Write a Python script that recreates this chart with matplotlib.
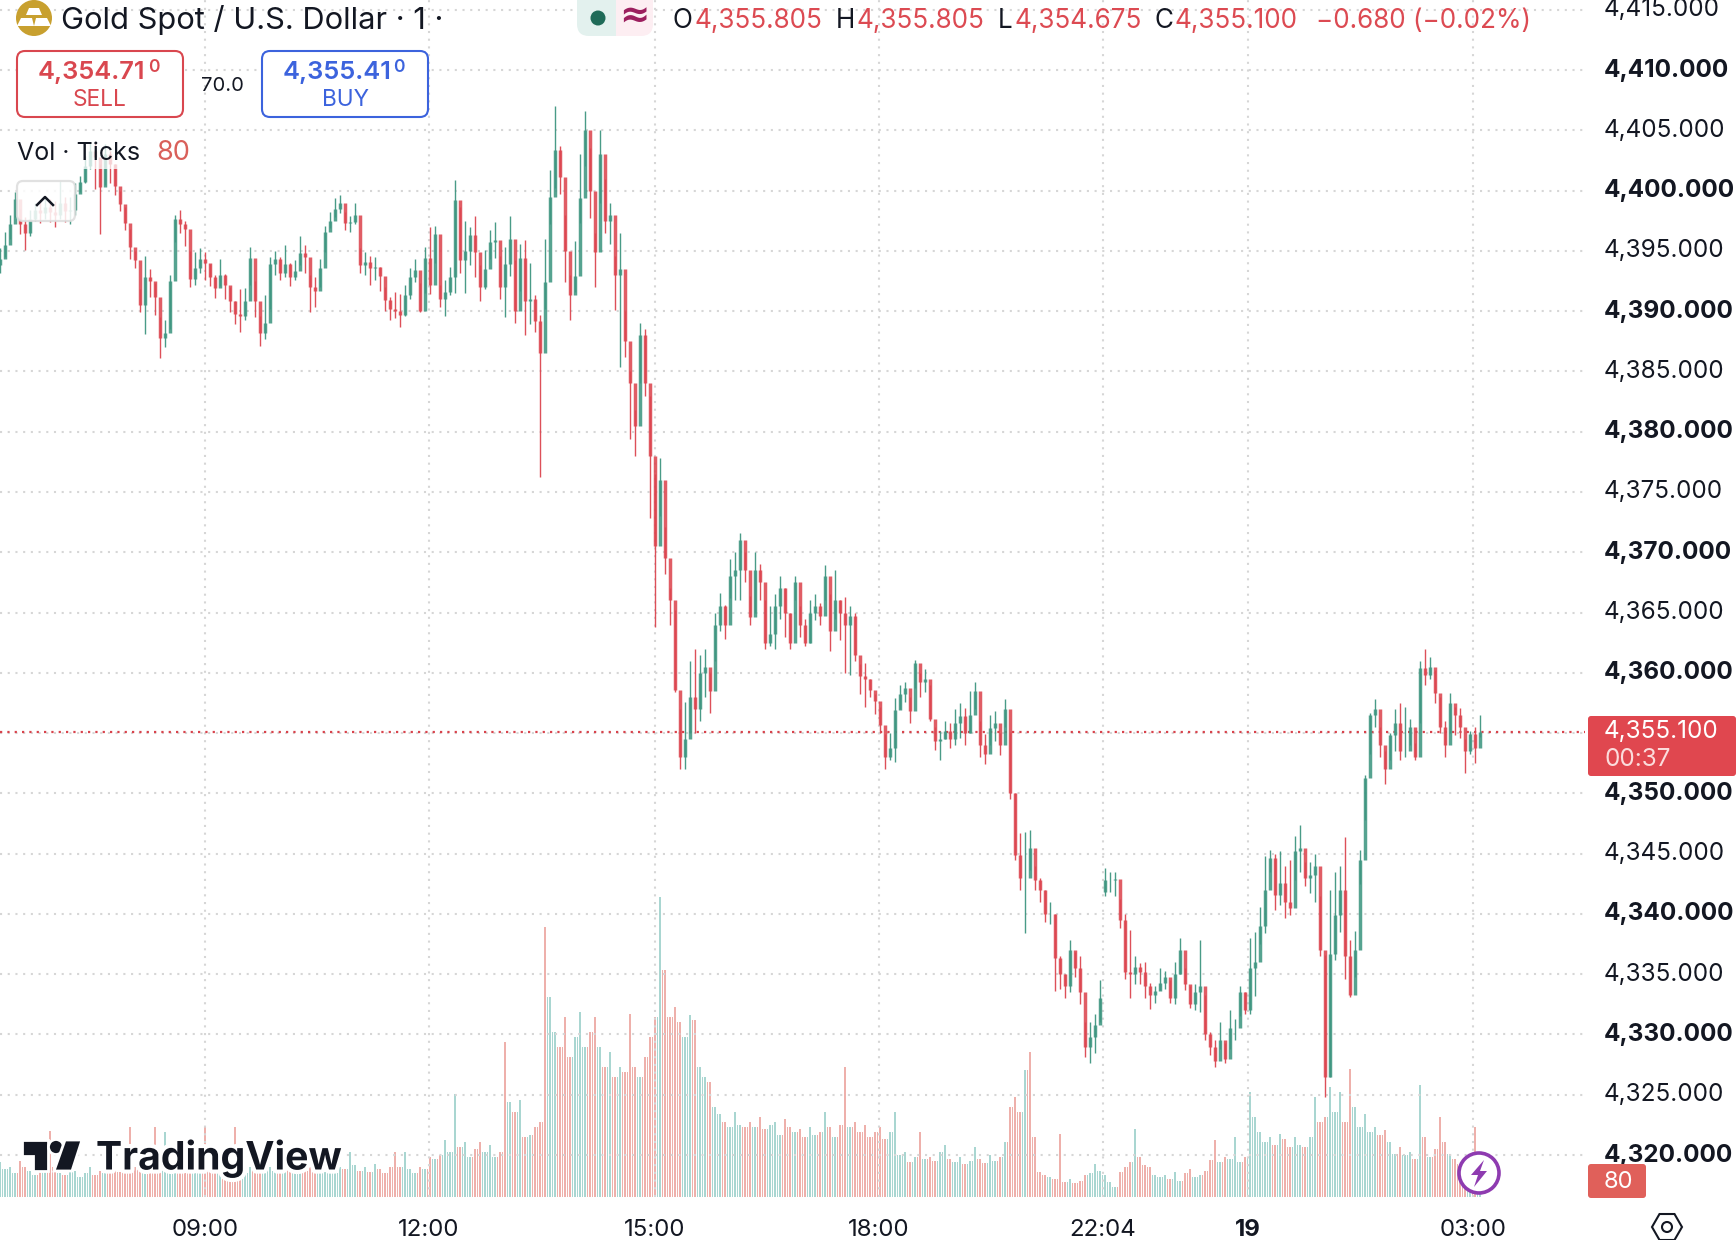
import numpy as np
import matplotlib
matplotlib.use("Agg")
import matplotlib.pyplot as plt
from matplotlib.patches import FancyBboxPatch, Circle, Rectangle, Polygon
import matplotlib.patheffects as pe

plt.rcParams['font.family'] = ['Inter', 'DejaVu Sans']

BASE = 4300.0
CANDLE_STEP = 5          # chart units between drawn candles
closes = [
 94.3,95.5,97.2,99.3,97.2,96.5,97.6,98.4,98.1,98.6,98.2,98.0,99.0,98.3,98.4,99.7,100.7,102.0,103.3,102.8,
 100.3,103.0,102.2,100.4,98.9,97.3,95.3,94.2,90.5,92.8,92.5,91.2,87.8,88.2,92.5,97.6,97.2,96.8,92.7,93.6,
 94.3,94.0,92.8,91.9,93.0,92.2,90.8,89.8,89.6,90.8,94.4,90.8,88.2,89.0,93.9,94.3,93.2,93.9,92.8,93.3,
 94.8,94.5,92.0,91.7,93.6,96.6,97.5,98.5,99.0,97.3,97.4,98.0,93.8,94.1,93.6,93.7,92.9,90.9,90.2,90.0,
 89.7,91.3,92.8,93.4,90.0,94.4,92.2,96.4,91.0,91.6,92.8,99.2,94.2,95.0,96.3,94.9,92.0,93.5,95.7,95.9,
 92.0,93.9,96.0,90.0,94.4,90.8,91.0,89.2,86.5,92.4,99.5,103.4,101.1,95.0,91.3,92.9,99.4,105.0,100.0,94.9,
 103.0,97.5,98.0,93.0,93.5,87.5,84.0,80.5,88.0,84.0,78.0,70.5,76.0,69.5,66.0,58.6,53.0,54.5,58.0,57.0,
 60.0,60.5,58.5,64.0,65.5,64.0,68.0,68.5,71.0,68.5,64.6,68.5,67.5,62.5,63.2,65.5,67.0,65.0,62.5,67.5,
 64.0,62.5,65.0,65.5,64.7,68.0,63.5,66.0,65.0,64.0,64.7,61.5,59.7,59.5,58.6,57.7,55.7,53.0,53.8,56.9,
 58.2,58.7,56.8,60.8,59.2,59.5,56.2,54.3,54.5,55.2,54.5,55.8,56.4,55.0,56.5,58.5,54.0,53.3,55.4,55.8,
 54.0,57.0,50.0,44.9,43.0,43.0,45.5,42.8,42.0,40.0,40.0,36.3,35.0,34.0,37.0,35.5,33.5,29.0,29.8,30.8,
 33.0,42.8,42.8,42.9,39.5,35.2,35.0,35.6,35.2,34.0,33.3,33.6,
 34.3,34.8,33.0,35.0,37.0,34.2,32.5,33.5,34.0,30.0,29.0,27.8,29.5,28.0,30.5,30.5,33.5,32.0,35.5,36.0,
 39.0,42.0,44.6,41.6,42.6,41.0,40.5,45.2,45.5,43.0,43.2,44.0,37.0,26.5,36.7,39.9,42.0,36.5,33.3,37.0,
 44.5,51.3,56.5,57.0,54.0,52.0,54.8,55.8,53.5,53.5,55.5,53.0,60.4,59.8,60.5,58.3,55.5,54.0,57.5,56.5,
 55.5,53.5,54.9,53.8,55.1]
highs = [
 95.2,96.6,98.0,99.9,98.5,97.8,98.4,99.0,99.2,99.5,99.3,99.1,100.8,99.5,99.5,100.6,101.2,102.9,104.0,104.0,
 102.2,103.9,103.3,102.2,100.0,98.6,96.8,95.0,91.8,94.6,93.5,92.3,89.5,89.3,93.0,98.0,98.4,97.5,95.0,94.9,
 95.2,94.9,93.9,93.0,94.3,93.1,92.0,90.8,91.8,91.9,95.3,92.5,89.6,91.3,94.5,95.0,94.5,95.5,94.0,94.2,
 96.2,95.5,93.0,92.8,94.3,97.1,98.2,99.4,99.6,98.2,97.9,99.0,95.2,94.9,94.6,94.5,93.7,92.0,91.2,91.6,
 91.4,92.2,93.6,94.3,92.3,95.3,97.0,97.1,92.2,92.6,93.7,100.9,98.6,97.5,97.0,97.9,93.8,95.1,96.7,97.4,
 94.6,95.3,97.9,94.2,95.6,95.9,94.0,91.3,89.7,96.0,101.7,107.0,103.7,98.0,93.0,95.8,103.0,106.6,103.5,96.5,
 105.0,101.0,99.0,94.6,96.5,90.0,85.0,81.8,89.0,88.5,83.0,76.5,77.8,72.1,67.0,65.2,57.0,57.6,61.0,62.0,
 61.5,62.0,60.0,65.0,66.6,65.6,69.4,70.0,71.6,70.0,66.4,70.0,69.0,66.0,65.5,66.5,68.0,67.0,65.0,68.0,
 65.5,64.5,66.0,66.5,65.8,68.9,66.5,68.5,66.0,66.3,65.5,65.0,60.7,60.8,59.5,58.2,57.2,54.9,55.0,57.9,
 59.0,59.2,58.0,61.1,60.0,60.3,59.0,55.5,55.2,56.0,55.8,57.0,57.5,57.1,58.5,59.2,56.0,54.9,56.5,56.8,
 55.0,57.8,55.0,50.0,46.7,46.8,47.0,44.0,43.0,42.0,41.0,40.0,36.5,35.0,37.8,36.8,36.5,31.0,31.0,31.7,
 34.5,43.8,43.5,43.5,41.2,40.0,38.7,36.5,35.9,36.0,34.3,34.0,
 35.5,35.3,34.5,36.0,38.0,35.5,34.0,34.2,37.8,33.3,30.2,29.5,31.0,29.3,32.0,31.3,34.0,33.5,38.0,38.5,
 40.6,44.8,45.3,45.0,45.2,44.0,44.5,46.5,47.4,44.3,44.3,45.0,41.5,36.6,42.0,43.5,44.0,46.4,37.8,38.6,
 45.3,51.5,56.7,57.8,55.5,53.5,55.0,57.0,57.5,57.2,56.2,54.2,61.0,62.0,61.3,60.2,58.0,56.0,58.3,57.2,
 57.1,54.5,55.2,55.5,56.5]
lows = [
 93.2,94.5,96.0,97.8,96.4,95.1,96.2,97.5,97.3,97.6,97.4,97.0,97.6,97.4,97.2,98.0,99.9,100.6,101.8,100.1,
 96.4,100.5,100.6,99.6,98.3,96.7,94.3,93.6,89.9,88.1,91.2,89.7,86.1,87.0,88.5,95.7,96.5,95.4,92.0,92.2,
 93.2,92.6,92.1,91.1,92.1,91.0,89.9,88.9,88.3,89.3,92.2,89.5,87.1,87.7,90.2,93.0,92.6,92.8,92.1,92.6,
 93.8,93.2,89.9,90.3,92.0,94.9,96.9,97.8,98.1,96.7,96.6,97.2,93.2,93.0,92.2,92.6,91.7,90.0,89.3,89.4,
 88.7,89.6,91.0,92.4,89.9,91.5,91.4,94.0,90.3,89.6,91.3,91.5,93.2,91.5,93.8,92.8,90.8,91.8,94.3,94.4,
 91.0,89.5,92.9,89.0,91.7,88.0,88.9,88.3,76.2,90.2,97.2,100.2,99.7,92.4,89.3,91.6,97.3,102.0,97.7,92.0,
 99.0,96.5,95.6,90.1,85.4,86.2,79.4,78.0,84.0,83.0,72.8,63.8,73.0,68.2,64.0,58.4,52.0,52.0,55.0,55.0,
 56.0,58.0,56.7,61.0,63.5,62.8,66.2,66.0,66.0,67.5,64.0,65.0,66.0,62.0,62.2,62.0,64.5,63.0,62.0,66.0,
 63.0,62.2,62.5,64.4,64.0,66.0,61.8,64.5,62.7,60.0,59.8,61.0,58.2,57.2,58.0,56.6,55.0,52.0,52.8,52.6,
 57.0,57.6,55.8,58.7,58.0,58.4,56.0,53.6,52.8,54.5,53.8,54.0,54.6,54.0,55.0,57.0,53.0,52.4,54.0,54.3,
 53.2,55.5,49.5,44.5,42.0,38.4,43.6,42.0,41.0,39.3,39.2,33.6,33.8,33.0,33.5,34.8,32.5,28.1,27.6,28.5,
 31.0,41.5,41.8,41.5,38.8,34.6,33.0,34.2,34.2,33.0,32.1,32.6,
 33.7,33.8,32.6,32.5,35.0,33.7,32.2,32.0,31.9,29.5,28.3,27.3,28.8,27.6,28.8,29.5,31.5,31.7,31.7,33.2,
 37.5,38.4,43.5,40.3,40.7,39.7,39.9,42.8,43.5,42.3,41.7,41.0,36.5,24.8,26.5,36.2,38.5,34.6,33.1,34.8,
 42.5,47.8,53.3,55.5,53.0,50.8,52.8,53.5,52.8,53.0,54.0,52.8,55.8,59.0,59.5,57.5,55.0,53.0,55.0,54.8,
 54.6,51.7,53.3,52.5,54.7]
session_open_index = 221      # first candle after the daily break
session_open_value = 41.8
volume_ticks_per_px = 5
volumes = [
 35,28,30,24,36,30,26,22,28,25, 66,30,24,22,28,26,20,24,30,22, 26,24,30,28,25,35,70,30,45,40,
 38,70,32,65,30,42,35,28,25,30, 28,70,45,30,28,30,26,70,28,24, 30,28,40,32,30,26,24,28,30,26,
 30,26,32,28,30,25,28,24,30,28, 45,32,26,30,25,33,28,24,30,45, 30,45,28,24,30,28,40,38,42,57,
 45,103,50,55,40,48,55,45,52,40, 45,155,95,85,97,60,62,70,75,270, 200,165,150,180,140,160,185,150,165,180,
 150,130,145,120,130,125,183,130,120,140, 160,180,300,227,180,190,175,160,182,177, 130,120,115,90,83,75,70,85,72,70,
 75,70,80,68,72,75,62,78,70,65, 68,60,70,62,65,85,70,60,72,130, 70,75,65,72,60,65,70,58,65,85,
 42,45,35,40,65,38,40,36,45,52, 38,35,40,33,36,50,38,34,42,36, 40,55,90,100,85,127,145,60,25,22,
 20,18,63,15,18,14,16,22,24,33, 26,22,15,10,25,30,35,68,40,32, 30,22,
 20,22,18,25,16,24,28,20,22,26, 37,57,35,40,38,60,35,40,105,80, 65,55,60,52,63,58,50,60,52,50,
 60,100,75,80,110,85,105,75,128,90, 70,83,65,70,62,67,55,43,50,42, 45,38,112,60,40,48,80,55,43,38,
 33,36,30,70,16]
red_volume_spikes = [101, 109, 133, 206, 270, 295]
price_ticks = list(range(4320, 4416, 5))
hidden_price_tick = 4355      # covered by the last-price tag
time_ticks = [205, 429, 655, 879, 1103, 1248, 1473]
time_labels = ['09:00', '12:00', '15:00', '18:00', '22:04', '19', '03:00']
last_price = 4355.1

n = min(len(closes), len(highs), len(lows), len(volumes))
xs = np.arange(n) * CANDLE_STEP
c = np.array(closes[:n]) + BASE
h = np.array(highs[:n]) + BASE
l = np.array(lows[:n]) + BASE
o = np.r_[c[0] - 0.5, c[:-1]]
o[session_open_index] = session_open_value + BASE
up = c >= o
GREEN, RED = '#3f9681', '#dc4650'
candle_col = np.where(up, GREEN, RED)
vol_col = np.where(up, '#a9d6d1', '#eeb0ab')
vol_col[red_volume_spikes] = '#eeb0ab'
v = np.array(volumes[:n], float)

W, H = 1736, 1240
R, B = 1585, 1197
px_per_unit = (1155 - 70) / 90.0
fig = plt.figure(figsize=(W / 100, H / 100), dpi=100, facecolor='white')
rect = [0, 1 - B / H, R / W, B / H]

ax = fig.add_axes(rect, zorder=2)
ax.set_facecolor('none')
ax.set_xlim(0, R)
ax.set_ylim(4410 - (B - 70) / px_per_unit, 4410 + 70 / px_per_unit)

axv = fig.add_axes(rect, zorder=1)
axv.set_xlim(0, R)
axv.set_ylim(0, B * volume_ticks_per_px)
axv.axis('off')
# fine stripes: the wide-spaced reading plus an in-between stripe capped by its neighbour
axv.bar(xs, v * volume_ticks_per_px, width=1.5, color=vol_col, linewidth=0)
axv.bar(xs[:-1] + CANDLE_STEP / 2, np.minimum(v[:-1], v[1:]) * volume_ticks_per_px, width=1.5,
        color=vol_col[1:], linewidth=0)

for s in ax.spines.values():
    s.set_visible(False)
ax.grid(True, color='#d6d6d6', linewidth=1.5, linestyle=(0, (1, 2.7)))
ax.set_axisbelow(True)
ax.yaxis.tick_right()
ax.set_yticks(price_ticks)
ax.set_yticklabels(['' if p == hidden_price_tick else f'{p:,.3f}' for p in price_ticks],
                   fontsize=17.5, color='#131722')
for lab, p in zip(ax.get_yticklabels(), price_ticks):
    if p % 10 == 0:
        lab.set_fontweight('bold')
    lab.set_verticalalignment('center')
ax.set_xticks(time_ticks)
ax.set_xticklabels(time_labels, fontsize=17.3, color='#131722')
for lab, t in zip(ax.get_xticklabels(), time_labels):
    if t == '19':
        lab.set_fontweight('bold')
ax.tick_params(axis='both', length=0)
ax.tick_params(axis='y', pad=13.7)
ax.tick_params(axis='x', pad=15.5)

ax.axhline(last_price, xmin=0, xmax=1, color='#d8434c', linewidth=1.6, linestyle=(0, (1, 2.3)), zorder=1.5)
ax.vlines(xs, l, h, colors=candle_col, linewidth=1.0, alpha=0.95, zorder=3)
ax.vlines(xs, np.minimum(o, c), np.maximum(o, c), colors=candle_col, linewidth=2.5, alpha=0.88, zorder=3)

# overlay in pixel coordinates
ov = fig.add_axes([0, 0, 1, 1], zorder=5)
ov.set_xlim(0, W)
ov.set_ylim(H, 0)
ov.axis('off')
ov.patch.set_alpha(0)

INK, RT, BT = '#131722', '#dc4a52', '#3c63dd'
# symbol icon
ov.add_patch(Circle((34, 18), 18, fc='#c8a02f', ec='none'))
ov.add_patch(Polygon([[29, 8], [39, 8], [42, 15], [26, 15]], fc='white', ec='none'))
ov.add_patch(Polygon([[21, 18], [32, 18], [34, 26], [17, 26]], fc='white', ec='none'))
ov.add_patch(Polygon([[36, 18], [47, 18], [51, 26], [34, 26]], fc='white', ec='none'))
ov.text(61, 20, 'Gold Spot / U.S. Dollar · 1 ·', fontsize=22.2, color=INK, va='center', ha='left')
# status pill
ov.add_patch(FancyBboxPatch((577, -12), 60, 48, boxstyle='round,pad=0,rounding_size=12', fc='#e3f1ee', ec='none'))
ov.add_patch(FancyBboxPatch((600, -12), 53, 48, boxstyle='round,pad=0,rounding_size=12', fc='#fdeef2', ec='none'))
ov.add_patch(Rectangle((590, -2), 26, 38, fc='#e3f1ee', ec='none'))
ov.add_patch(Circle((598, 18), 7.5, fc='#1f6b58', ec='none'))
ov.text(634, 17, '≈', fontsize=26, fontweight='bold', color='#9c1f5e', ha='center', va='center', family=['DejaVu Sans'])
# OHLC
for x, s, col in [(673, 'O', INK), (694, '4,355.805', RT), (836, 'H', INK), (856, '4,355.805', RT),
                  (998, 'L', INK), (1014, '4,354.675', RT), (1155, 'C', INK), (1175, '4,355.100', RT),
                  (1316, '−0.680 (−0.02%)', RT)]:
    ov.text(x, 21, s, fontsize=18.8, color=col, va='center', ha='left')
# sell / buy
for x0, col, val, word in [(17, '#d9474f', '4,354.71', 'SELL'), (262, '#3c63dd', '4,355.41', 'BUY')]:
    ov.add_patch(FancyBboxPatch((x0, 51), 166, 66, boxstyle='round,pad=0,rounding_size=8', fc='white', ec=col, lw=1.5))
    ov.text(x0 + 21, 73, val, fontsize=18.3, fontweight='semibold', color=col, va='center', ha='left')
    ov.text(x0 + 131, 68, '0', fontsize=12.5, fontweight='semibold', color=col, va='center', ha='left')
    ov.text(x0 + 83, 100, word, fontsize=16.3, color=col, va='center', ha='center')
ov.text(222, 86, '70.0', fontsize=14.5, color=INK, va='center', ha='center')
# legend
ov.add_patch(Rectangle((0, 133), 190, 36, fc='white', ec='none', alpha=0.75))
ov.text(17, 153, 'Vol · Ticks', fontsize=18, color=INK, va='center', ha='left')
ov.text(156, 153, '80', fontsize=19.5, color='#d9605a', va='center', ha='left')
ov.add_patch(FancyBboxPatch((17, 181), 58, 40, boxstyle='round,pad=0,rounding_size=6', fc='white', ec='#dcdcdc', lw=1.6, alpha=0.85))
ov.plot([37, 45, 53], [205, 197, 205], color=INK, lw=1.8)
# price tags
ov.add_patch(FancyBboxPatch((1588, 716), 148, 60, boxstyle='round,pad=0,rounding_size=3', fc='#e0474f', ec='none'))
ov.text(1604, 732, '4,355.100', fontsize=17.5, color='white', va='center', ha='left')
ov.text(1604, 760, '00:37', fontsize=17.5, color='#fbdcdc', va='center', ha='left')
ov.add_patch(FancyBboxPatch((1588, 1164), 58, 34, boxstyle='round,pad=0,rounding_size=3', fc='#e0605a', ec='none'))
ov.text(1618, 1182, '80', fontsize=17, color='white', va='center', ha='center')
# lightning
ov.add_patch(Circle((1479, 1173), 20, fc='white', ec='#8e3bb0', lw=2.6))
ov.add_patch(Polygon([[1484, 1160], [1471, 1175], [1478, 1175], [1474, 1187], [1487, 1171], [1480, 1171]], fc='#8e3bb0', ec='none'))
# settings hexagon
ang = np.deg2rad(np.arange(0, 360, 60))
ov.add_patch(Polygon(np.c_[1667 + 15 * np.cos(ang), 1227 + 15 * np.sin(ang)], fc='white', ec=INK, lw=1.5))
ov.add_patch(Circle((1667, 1227), 5, fc='white', ec=INK, lw=1.5))
# TradingView logo
halo = [pe.withStroke(linewidth=6, foreground='white')]
for p in [Polygon([[22, 1140], [48, 1140], [48, 1171], [33, 1171], [33, 1156], [22, 1156]], fc='#131722', ec='white', lw=2),
          Circle((56, 1147), 7.5, fc='#131722', ec='white', lw=2),
          Polygon([[65, 1140], [82, 1140], [72, 1171], [54, 1171]], fc='#131722', ec='white', lw=2)]:
    ov.add_patch(p)
ov.text(96, 1158, 'TradingView', fontsize=28.2, fontweight='bold', color='#131722', va='center', ha='left', path_effects=halo)

fig.savefig('out.png', dpi=100, facecolor='white')
